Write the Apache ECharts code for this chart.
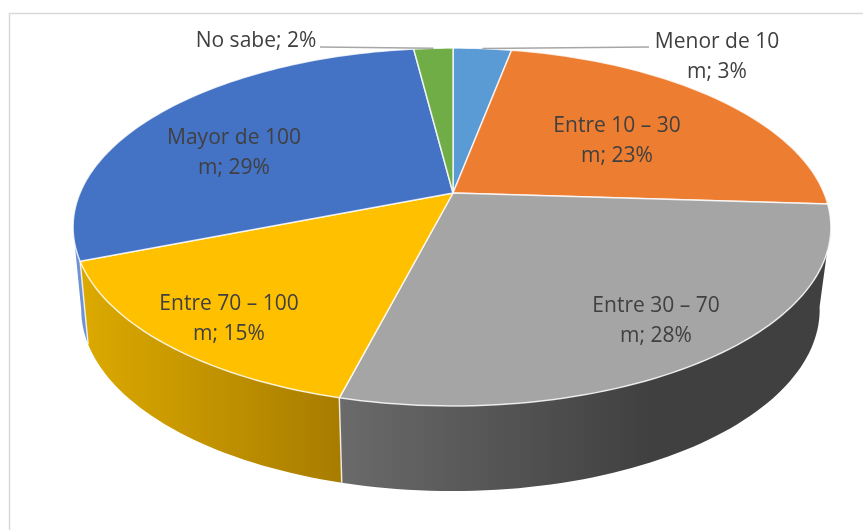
<!DOCTYPE html>
<html>
<head>
<meta charset="utf-8">
<style>
  html, body { margin: 0; padding: 0; background: #fff; }
  #chart { width: 863px; height: 530px; }
</style>
</head>
<body>
<div id="chart"></div>
<script src="https://cdn.jsdelivr.net/npm/echarts@6/dist/echarts.min.js"></script>
<script>
const categories = ['Menor de 10 m', 'Entre 10 – 30 m', 'Entre 30 – 70 m', 'Entre 70 – 100 m', 'Mayor de 100 m', 'No sabe']
const percents = [3, 23, 28, 15, 29, 2]

const topColors = ['#5B9BD5', '#ED7D31', '#A5A5A5', '#FFC000', '#4472C4', '#70AD47']
// wall shading runs left to right across the visible part of each wall
const wallColors = [
  ['#5B9BD5', '#5B9BD5'],
  ['#ED7D31', '#ED7D31'],
  ['#6A6A6A', '#404040'],
  ['#DBA900', '#A87C00'],
  ['#6F92D2', '#6F92D2'],
  ['#70AD47', '#70AD47'],
]
const wallShadeX = [[0, 1], [0, 1], [342, 650], [85, 340], [0, 1], [0, 1]]
const labelCenters = [[717, 57], [617, 141], [656, 321.5], [229, 319.5], [234, 153.5], [256, 41]]
const leaderStarts = [[649, 47], null, null, null, null, [320, 47]]

// perspective of the tilted disc: top face and base share the same tilt
const topFace = { x: 453, y: 193, aRight: 371, aLeft: 373, b: 172.5, k: 0.19 }
const baseFace = { x: 453, y: 275, aRight: 360, aLeft: 365, b: 175, k: 0.19 }
// the wall is only seen between the two rim tangents
const frontArc = [100 / 180 * Math.PI, 259 / 180 * Math.PI]

const total = percents.reduce((sum, p) => sum + p, 0)

const sliceAngles = (index) => {
  const before = percents.slice(0, index).reduce((sum, p) => sum + p, 0)
  return [before / total * Math.PI * 2, (before + percents[index]) / total * Math.PI * 2]
}

const project = (face, theta) => {
  const u = Math.sin(theta)
  const v = Math.cos(theta)
  const w = 1 + face.k * v
  return [face.x + (u < 0 ? face.aLeft : face.aRight) * u / w, face.y - face.b * v / w]
}

const arcPoints = (face, from, to) => {
  const steps = Math.max(4, Math.ceil((to - from) * 40))
  const points = []
  for (let i = 0; i <= steps; i++) {
    points.push(project(face, from + (to - from) * i / steps))
  }
  return points
}

const renderWall = (params) => {
  const i = params.dataIndex
  const [sliceFrom, sliceTo] = sliceAngles(i)
  const from = Math.max(sliceFrom, frontArc[0])
  const to = Math.min(sliceTo, frontArc[1])
  if (to <= from) return null
  const upper = arcPoints(topFace, from, to)
  const lower = arcPoints(baseFace, from, to)
  const [x0, x1] = wallShadeX[i]
  const children = [{
    type: 'polygon',
    shape: { points: upper.concat(lower.slice().reverse()) },
    style: {
      fill: new echarts.graphic.LinearGradient(x0, 0, x1, 0, [
        { offset: 0, color: wallColors[i][0] },
        { offset: 1, color: wallColors[i][1] },
      ], true),
    },
  }]
  // white seam where two front slices meet
  if (from === sliceFrom) {
    children.push({
      type: 'polyline',
      z2: 10,
      shape: { points: [upper[0], lower[0]] },
      style: { stroke: 'rgba(255, 255, 255, 0.8)', lineWidth: 1.5, fill: null },
    })
  }
  return { type: 'group', children }
}

const renderTop = (params) => {
  const i = params.dataIndex
  const [from, to] = sliceAngles(i)
  return {
    type: 'polygon',
    shape: { points: [[topFace.x, topFace.y]].concat(arcPoints(topFace, from, to)) },
    style: {
      fill: topColors[i],
      stroke: 'rgba(255, 255, 255, 0.8)',
      lineWidth: 1.5,
      lineJoin: 'round',
    },
  }
}

const renderLabel = (params) => {
  const i = params.dataIndex
  const text = categories[i].replace(/ m$/, '\nm') + '; ' + percents[i] + '%'
  const children = [{
    type: 'text',
    x: labelCenters[i][0],
    y: labelCenters[i][1],
    style: {
      text,
      fill: '#404040',
      font: '21px "Open Sans", Lato, sans-serif',
      lineHeight: 30,
      align: 'center',
      verticalAlign: 'middle',
    },
  }]
  if (leaderStarts[i]) {
    const [from, to] = sliceAngles(i)
    children.push({
      type: 'polyline',
      shape: { points: [leaderStarts[i], project(topFace, (from + to) / 2)] },
      style: { stroke: '#A6A6A6', lineWidth: 1.5, fill: null },
    })
  }
  return { type: 'group', children }
}

const seriesData = categories.map((name, i) => ({ name, value: percents[i] }))

const chart = echarts.init(document.getElementById('chart'), null, { renderer: 'canvas' })

chart.setOption({
  backgroundColor: '#fff',
  animation: false,
  graphic: [{
    type: 'rect',
    shape: { x: 9.5, y: 13.5, width: 900, height: 600 },
    style: { fill: 'none', stroke: '#D9D9D9', lineWidth: 1.5 },
    silent: true,
  }],
  series: [
    { type: 'custom', coordinateSystem: 'none', z: 2, silent: true, data: seriesData, renderItem: renderWall },
    { type: 'custom', coordinateSystem: 'none', z: 3, silent: true, data: seriesData, renderItem: renderTop },
    { type: 'custom', coordinateSystem: 'none', z: 4, silent: true, data: seriesData, renderItem: renderLabel },
  ],
})
</script>
</body>
</html>
